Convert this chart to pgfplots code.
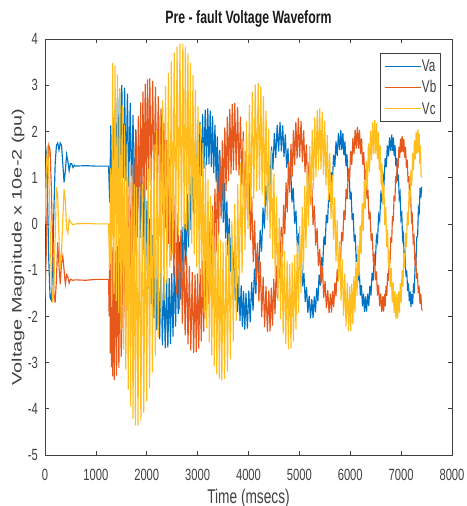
\documentclass[border=0pt]{standalone}
\usepackage{fontspec}
\setmainfont{Liberation Sans}
\usepackage{pgfplots}
\pgfplotsset{compat=1.18}
\definecolor{cva}{RGB}{0,116,196}
\definecolor{cvb}{RGB}{230,88,28}
\definecolor{cvc}{RGB}{255,190,30}
\definecolor{axc}{RGB}{64,64,64}
\newcommand{\vs}[1]{\scalebox{1}[1.45]{#1}}
\pgfplotsset{legend image code/.code={\draw[#1, line width=1bp] (0bp,0bp) -- (36.6bp,0bp);}}
\begin{document}
\begin{tikzpicture}
\useasboundingbox (-45bp,-51bp) rectangle (422bp,455bp);
\begin{axis}[
  at={(0,0)}, anchor=south west,
  scale only axis, width=407bp, height=416bp,
  xmin=0, xmax=8000, ymin=-5, ymax=4,
  xtick={0,1000,...,8000}, ytick={-5,-4,...,4},
  tick align=inside, major tick length=4bp,
  axis line style={axc, line width=0.6bp},
  every tick/.style={axc, line width=0.6bp},
  /pgf/number format/assume math mode=true,
  /pgf/number format/set thousands separator={},
  xticklabel={\vs{\pgfmathprintnumber{\tick}}},
  yticklabel={\vs{\pgfmathprintnumber{\tick}}},
  ticklabel style={font=\fontsize{11.2bp}{13bp}\selectfont, text=axc},
  xticklabel style={anchor=base, yshift=-26bp, inner sep=0pt},
  yticklabel style={anchor=east, xshift=-7bp, inner sep=0pt},
  title={\vs{\textbf{Pre - fault Voltage Waveform}}},
  title style={at={(0.5,1.024)}, anchor=base, font=\fontsize{12.3bp}{14bp}\selectfont, inner sep=0pt, text=black!90},
  xlabel={\vs{Time (msecs)}},
  xlabel style={at={(0.5,-0.1154)}, anchor=base, font=\fontsize{13.7bp}{15bp}\selectfont, inner sep=0pt, text=axc},
  ylabel={\scalebox{1.45}[1]{Voltage Magnitude x 10e-2 (pu)}},
  ylabel style={at={(-0.0663,0.5)}, anchor=center, font=\fontsize{13.7bp}{15bp}\selectfont, inner sep=0pt, text=axc},
  legend style={at={(0.972,0.966)}, anchor=north east, draw=axc, line width=0.6bp, fill=white,
    font=\fontsize{11.7bp}{13bp}\selectfont, inner xsep=4bp, inner ysep=6bp, row sep=8bp,
    nodes={inner sep=0pt, text=axc}},
  legend cell align=left,
]
\addplot[color=cva, line width=1.15bp, mark=none] coordinates {
(0,1.75) (25,1.55) (50,0.6) (75,-0.8) (100,-1.6) (125,-1.65) (150,-0.9) (175,0.3) (200,1.3) (225,1.7)
(250,1.75) (275,1.6) (300,1.75) (325,1.7) (350,1.3) (375,0.9) (400,1.15) (425,1.5) (450,1.35) (475,1.15)
(500,1.3) (525,1.3) (550,1.22) (575,1.27) (600,1.25) (800,1.26) (1000,1.25) (1250,1.25)
(1272,0.46) (1293,2.133) (1315,0.519) (1337,2.304) (1358,0.648) (1380,2.525) (1402,0.802) (1423,2.746)
(1445,0.931) (1467,2.917) (1488,0.992)
(1510,3.0) (1538,0.989) (1565,2.946) (1593,0.929) (1620,2.819) (1648,0.798) (1675,2.62) (1703,0.599)
(1730,2.36) (1758,0.342) (1785,2.044) (1813,0.038) (1840,1.687) (1868,-0.303) (1895,1.301) (1923,-0.665)
(1950,0.9) (1978,-1.035) (2005,0.499) (2033,-1.398) (2060,0.113) (2088,-1.738) (2115,-0.244) (2143,-2.043)
(2170,-0.559) (2198,-2.3) (2225,-0.82) (2253,-2.498) (2280,-1.019) (2308,-2.63) (2335,-1.146) (2363,-2.689)
(2390,-1.2) (2415,-2.678) (2441,-1.172) (2466,-2.594) (2491,-1.072) (2516,-2.441) (2542,-0.903) (2567,-2.224)
(2592,-0.673) (2618,-1.949) (2643,-0.392) (2668,-1.628) (2694,-0.068) (2719,-1.27) (2744,0.284) (2770,-0.893)
(2795,0.65) (2820,-0.508) (2845,1.016) (2871,-0.13) (2896,1.368) (2921,0.227) (2947,1.692) (2972,0.548)
(2997,1.974) (3023,0.823) (3048,2.203) (3073,1.04) (3098,2.372) (3124,1.194) (3149,2.472) (3175,1.277)
(3200,2.5) (3223,1.288) (3247,2.452) (3270,1.229) (3294,2.33) (3317,1.099) (3341,2.143) (3364,0.906)
(3388,1.894) (3411,0.656) (3434,1.594) (3458,0.361) (3481,1.252) (3505,0.03) (3528,0.883) (3552,-0.321)
(3575,0.5) (3598,-0.68) (3622,0.117) (3645,-1.03) (3669,-0.252) (3692,-1.361) (3716,-0.593) (3739,-1.656)
(3763,-0.894) (3786,-1.906) (3809,-1.142) (3833,-2.099) (3856,-1.33) (3880,-2.229) (3903,-1.451) (3927,-2.288)
(3950,-1.5) (3978,-2.264) (4006,-1.443) (4034,-2.128) (4062,-1.262) (4090,-1.874) (4117,-0.969) (4145,-1.518)
(4173,-0.583) (4201,-1.084) (4229,-0.134) (4257,-0.6) (4285,0.35) (4313,-0.1) (4341,0.834) (4369,0.383)
(4396,1.283) (4424,0.818) (4452,1.669) (4480,1.174) (4508,1.962) (4536,1.427) (4564,2.143) (4592,1.564)
(4620,2.2) (4646,1.571) (4672,2.129) (4698,1.453) (4724,1.936) (4750,1.217) (4776,1.631) (4802,0.88)
(4828,1.236) (4854,0.467) (4880,0.777) (4907,0.005) (4933,0.285) (4959,-0.475) (4985,-0.207) (5011,-0.937)
(5037,-0.666) (5063,-1.35) (5089,-1.061) (5115,-1.687) (5141,-1.366) (5167,-1.923) (5193,-1.559) (5219,-2.041)
(5245,-1.63) (5269,-2.038) (5293,-1.569) (5317,-1.913) (5340,-1.386) (5364,-1.673) (5388,-1.096) (5412,-1.335)
(5435,-0.717) (5459,-0.921) (5483,-0.274) (5507,-0.459) (5530,0.2) (5554,0.019) (5578,0.674) (5602,0.48)
(5625,1.117) (5649,0.895) (5673,1.496) (5697,1.233) (5720,1.786) (5744,1.472) (5768,1.969) (5792,1.598)
(5815,2.03) (5835,1.601) (5855,1.967) (5875,1.482) (5896,1.787) (5916,1.252) (5936,1.501) (5956,0.927)
(5977,1.128) (5997,0.526) (6017,0.695) (6037,0.081) (6057,0.23) (6078,-0.381) (6098,-0.235) (6118,-0.827)
(6138,-0.668) (6159,-1.227) (6179,-1.041) (6199,-1.552) (6219,-1.327) (6240,-1.783) (6260,-1.507) (6280,-1.901)
(6300,-1.57) (6321,-1.899) (6343,-1.512) (6364,-1.78) (6386,-1.337) (6407,-1.551) (6429,-1.06) (6450,-1.227)
(6472,-0.697) (6493,-0.831) (6515,-0.273) (6536,-0.389) (6557,0.18) (6579,0.069) (6600,0.634) (6622,0.51)
(6643,1.057) (6665,0.907) (6686,1.42) (6708,1.231) (6729,1.697) (6751,1.459) (6772,1.872) (6794,1.579)
(6815,1.93) (6831,1.581) (6848,1.871) (6864,1.467) (6881,1.698) (6897,1.245) (6914,1.423) (6930,0.931)
(6947,1.067) (6963,0.546) (6980,0.651) (6996,0.117) (7013,0.205) (7029,-0.328) (7045,-0.241) (7062,-0.757)
(7078,-0.657) (7095,-1.141) (7111,-1.014) (7128,-1.455) (7144,-1.288) (7161,-1.678) (7177,-1.461) (7194,-1.792)
(7210,-1.52) (7226,-1.738) (7243,-1.355) (7259,-1.429) (7275,-0.903) (7291,-0.894) (7308,-0.285) (7324,-0.276)
(7340,0.333) (7356,0.259) (7373,0.785) (7389,0.568) (7405,0.8)
};
\addplot[color=cvb, line width=1.15bp, mark=none] coordinates {
(0,-1.6) (25,-0.6) (50,0.9) (75,1.7) (100,1.6) (125,0.8) (150,-0.5) (175,-1.5) (200,-1.7) (225,-1.2)
(250,-0.4) (275,-0.9) (300,-1.3) (325,-0.85) (350,-0.7) (375,-1.0) (400,-1.3) (425,-1.1) (450,-1.15) (475,-1.28)
(500,-1.2) (550,-1.22) (600,-1.21) (800,-1.22) (1000,-1.2) (1250,-1.2)
(1261,-2.0) (1272,-0.5) (1284,-2.8) (1295,-0.3) (1307,-3.1) (1318,-0.5) (1329,-3.3)
(1340,-0.6) (1362,-3.373) (1385,-0.578) (1407,-3.282) (1430,-0.479) (1452,-3.117) (1475,-0.31) (1497,-2.885)
(1520,-0.076) (1542,-2.593) (1565,0.211) (1587,-2.252) (1610,0.541) (1632,-1.877) (1655,0.901) (1677,-1.478)
(1700,1.275) (1722,-1.072) (1745,1.649) (1767,-0.674) (1790,2.009) (1812,-0.298) (1835,2.339) (1857,0.042)
(1880,2.627) (1902,0.334) (1925,2.86) (1947,0.567) (1970,3.029) (1992,0.731) (2015,3.128) (2037,0.823)
(2060,3.15) (2088,0.84) (2116,3.093) (2144,0.784) (2171,2.963) (2199,0.655) (2227,2.761) (2255,0.46)
(2282,2.497) (2310,0.206) (2338,2.178) (2366,-0.095) (2394,1.819) (2422,-0.433) (2449,1.429) (2477,-0.792)
(2505,1.025) (2533,-1.159) (2560,0.621) (2588,-1.518) (2616,0.232) (2644,-1.856) (2672,-0.128) (2700,-2.157)
(2727,-0.447) (2755,-2.411) (2783,-0.711) (2811,-2.606) (2838,-0.912) (2866,-2.735) (2894,-1.043) (2922,-2.791)
(2950,-1.1) (2974,-2.778) (2999,-1.071) (3023,-2.696) (3048,-0.969) (3072,-2.544) (3096,-0.799) (3120,-2.328)
(3145,-0.568) (3169,-2.055) (3194,-0.286) (3218,-1.734) (3243,0.039) (3267,-1.378) (3291,0.393) (3315,-1.002)
(3340,0.76) (3364,-0.618) (3389,1.127) (3413,-0.242) (3438,1.481) (3462,0.114) (3486,1.806) (3510,0.434)
(3535,2.089) (3559,0.707) (3584,2.319) (3608,0.924) (3633,2.489) (3657,1.076) (3681,2.591) (3705,1.158)
(3730,2.62) (3758,1.159) (3786,2.533) (3814,1.052) (3842,2.322) (3870,0.829) (3897,1.999) (3925,0.503)
(3953,1.583) (3981,0.098) (4009,1.104) (4037,-0.355) (4065,0.59) (4093,-0.825) (4121,0.076) (4149,-1.279)
(4176,-0.403) (4204,-1.683) (4232,-0.819) (4260,-2.009) (4288,-1.142) (4316,-2.233) (4344,-1.353) (4372,-2.339)
(4400,-1.44) (4424,-2.327) (4448,-1.379) (4472,-2.198) (4497,-1.196) (4521,-1.952) (4545,-0.901) (4569,-1.606)
(4593,-0.516) (4617,-1.182) (4642,-0.067) (4666,-0.71) (4690,0.415) (4714,-0.221) (4738,0.897) (4762,0.252)
(4786,1.346) (4810,0.675) (4835,1.731) (4859,1.021) (4883,2.026) (4907,1.268) (4931,2.209) (4955,1.411)
(4980,2.3) (5006,1.438) (5033,2.222) (5059,1.334) (5085,2.025) (5111,1.116) (5138,1.722) (5164,0.803)
(5190,1.331) (5216,0.415) (5243,0.879) (5269,-0.02) (5295,0.395) (5321,-0.471) (5348,-0.089) (5374,-0.905)
(5400,-0.541) (5426,-1.294) (5453,-0.931) (5479,-1.607) (5505,-1.235) (5531,-1.824) (5558,-1.432) (5584,-1.929)
(5610,-1.51) (5632,-1.92) (5654,-1.449) (5676,-1.799) (5698,-1.268) (5720,-1.565) (5743,-0.982) (5765,-1.235)
(5787,-0.608) (5809,-0.83) (5831,-0.172) (5853,-0.379) (5875,0.295) (5897,0.089) (5919,0.762) (5941,0.54)
(5964,1.198) (5986,0.945) (6008,1.571) (6030,1.275) (6052,1.858) (6074,1.509) (6096,2.039) (6118,1.63)
(6140,2.1) (6161,1.631) (6182,2.035) (6203,1.513) (6223,1.85) (6244,1.281) (6265,1.559) (6286,0.953)
(6307,1.18) (6328,0.549) (6348,0.738) (6369,0.098) (6390,0.265) (6411,-0.368) (6432,-0.208) (6453,-0.819)
(6474,-0.65) (6495,-1.223) (6515,-1.029) (6536,-1.551) (6557,-1.32) (6578,-1.783) (6599,-1.505) (6620,-1.901)
(6640,-1.57) (6656,-1.9) (6672,-1.513) (6688,-1.782) (6703,-1.339) (6719,-1.554) (6735,-1.064) (6751,-1.233)
(6767,-0.705) (6783,-0.841) (6798,-0.285) (6814,-0.402) (6830,0.165) (6846,0.052) (6862,0.615) (6878,0.49)
(6893,1.035) (6909,0.883) (6925,1.394) (6941,1.204) (6957,1.669) (6973,1.431) (6988,1.843) (7004,1.55)
(7020,1.9) (7037,1.551) (7053,1.84) (7070,1.436) (7087,1.666) (7104,1.213) (7120,1.39) (7137,0.897)
(7153,1.032) (7170,0.511) (7187,0.614) (7204,0.078) (7220,0.165) (7237,-0.369) (7253,-0.284) (7270,-0.801)
(7287,-0.702) (7304,-1.187) (7320,-1.061) (7337,-1.503) (7353,-1.336) (7370,-1.727) (7387,-1.51) (7404,-1.841)
(7420,-1.87)
};
\addplot[color=cvc, line width=1.15bp, mark=none] coordinates {
(0,0.0) (25,1.2) (50,1.7) (75,1.1) (100,-0.1) (125,-1.2) (150,-1.7) (175,-1.3) (200,-0.3) (225,0.8)
(250,0.6) (275,-0.3) (300,-1.0) (325,-0.6) (350,0.1) (375,0.75) (400,0.5) (425,-0.1) (450,-0.2) (475,0.1)
(500,0.05) (550,-0.02) (600,0.0) (800,0.01) (1000,0.0) (1250,0.0)
(1270,-1.0) (1290,1.2) (1310,-1.8)
(1330,3.48) (1354,-1.52) (1377,3.423) (1401,-1.666) (1424,3.237) (1448,-1.932) (1471,2.939) (1495,-2.294)
(1518,2.561) (1542,-2.718) (1565,2.14) (1589,-3.163) (1612,1.719) (1636,-3.586) (1659,1.341) (1683,-3.948)
(1706,1.043) (1730,-4.214) (1753,0.857) (1777,-4.36)
(1800,0.8) (1828,-4.364) (1857,0.799) (1885,-4.256) (1914,0.866) (1942,-4.081) (1971,1.0) (1999,-3.842)
(2028,1.192) (2056,-3.55) (2084,1.435) (2112,-3.212) (2141,1.717) (2169,-2.842) (2198,2.027) (2226,-2.45)
(2255,2.35) (2283,-2.051) (2312,2.674) (2340,-1.659) (2369,2.983) (2397,-1.289) (2426,3.266) (2454,-0.951)
(2483,3.508) (2511,-0.659) (2540,3.701) (2568,-0.42) (2596,3.834) (2624,-0.245) (2653,3.902) (2681,-0.137)
(2710,3.9) (2735,-0.102) (2759,3.833) (2784,-0.143) (2809,3.693) (2834,-0.254) (2858,3.486) (2883,-0.428)
(2908,3.219) (2933,-0.659) (2957,2.9) (2982,-0.936) (3006,2.54) (3031,-1.248) (3056,2.151) (3081,-1.581)
(3105,1.75) (3130,-1.92) (3155,1.348) (3180,-2.252) (3204,0.961) (3229,-2.564) (3253,0.6) (3278,-2.841)
(3303,0.281) (3328,-3.071) (3352,0.014) (3377,-3.246) (3402,-0.192) (3427,-3.357) (3451,-0.333) (3476,-3.398)
(3500,-0.4) (3529,-3.354) (3558,-0.364) (3587,-3.197) (3615,-0.203) (3644,-2.923) (3673,0.069) (3702,-2.545)
(3730,0.433) (3759,-2.09) (3788,0.862) (3817,-1.586) (3845,1.325) (3874,-1.064) (3903,1.788) (3932,-0.56)
(3960,2.217) (3989,-0.105) (4018,2.582) (4047,0.272) (4075,2.853) (4104,0.546) (4133,3.014) (4162,0.703)
(4190,3.05) (4216,0.728) (4242,2.969) (4268,0.622) (4293,2.765) (4319,0.401) (4345,2.453) (4371,0.081)
(4397,2.052) (4423,-0.316) (4449,1.587) (4475,-0.759) (4500,1.09) (4526,-1.221) (4552,0.593) (4578,-1.665)
(4604,0.128) (4630,-2.061) (4655,-0.273) (4681,-2.381) (4707,-0.585) (4733,-2.603) (4759,-0.789) (4785,-2.708)
(4810,-0.87) (4835,-2.688) (4859,-0.831) (4884,-2.542) (4908,-0.672) (4933,-2.283) (4958,-0.406) (4983,-1.926)
(5007,-0.051) (5032,-1.493) (5056,0.366) (5081,-1.013) (5105,0.815) (5130,-0.518) (5154,1.264) (5179,-0.037)
(5204,1.681) (5229,0.395) (5253,2.036) (5278,0.752) (5302,2.302) (5327,1.012) (5351,2.461) (5376,1.157)
(5400,2.5) (5425,1.175) (5449,2.425) (5474,1.063) (5498,2.227) (5523,0.836) (5548,1.921) (5573,0.51)
(5597,1.525) (5622,0.108) (5646,1.067) (5671,-0.342) (5695,0.575) (5720,-0.809) (5744,0.084) (5769,-1.259)
(5794,-0.375) (5819,-1.661) (5843,-0.77) (5868,-1.987) (5892,-1.077) (5917,-2.214) (5941,-1.274) (5966,-2.326)
(5990,-1.35) (6010,-2.312) (6031,-1.298) (6051,-2.175) (6072,-1.124) (6092,-1.919) (6112,-0.838) (6133,-1.564)
(6153,-0.463) (6174,-1.131) (6194,-0.022) (6214,-0.65) (6235,0.45) (6255,-0.151) (6276,0.923) (6296,0.33)
(6316,1.363) (6337,0.763) (6357,1.739) (6378,1.118) (6398,2.024) (6418,1.374) (6439,2.199) (6459,1.511)
(6480,2.25) (6498,1.522) (6516,2.181) (6534,1.404) (6553,1.99) (6571,1.169) (6589,1.691) (6607,0.837)
(6625,1.302) (6643,0.428) (6661,0.85) (6679,-0.028) (6698,0.365) (6716,-0.502) (6734,-0.12) (6752,-0.958)
(6770,-0.572) (6788,-1.368) (6806,-0.96) (6824,-1.7) (6843,-1.26) (6861,-1.934) (6879,-1.451) (6897,-2.052)
(6915,-1.52) (6932,-2.049) (6950,-1.461) (6967,-1.926) (6984,-1.284) (7001,-1.69) (7019,-1.0) (7036,-1.359)
(7053,-0.63) (7070,-0.952) (7088,-0.198) (7105,-0.5) (7123,0.265) (7140,-0.031) (7157,0.729) (7174,0.421)
(7192,1.16) (7209,0.828) (7226,1.531) (7243,1.159) (7261,1.814) (7278,1.395) (7295,1.992) (7312,1.518)
(7330,2.05) (7342,1.55) (7355,1.95) (7367,1.3) (7380,1.7) (7392,1.05) (7405,1.0)
};
\legend{\vs{Va},\vs{Vb},\vs{Vc}}
\end{axis}
\end{tikzpicture}
\end{document}
